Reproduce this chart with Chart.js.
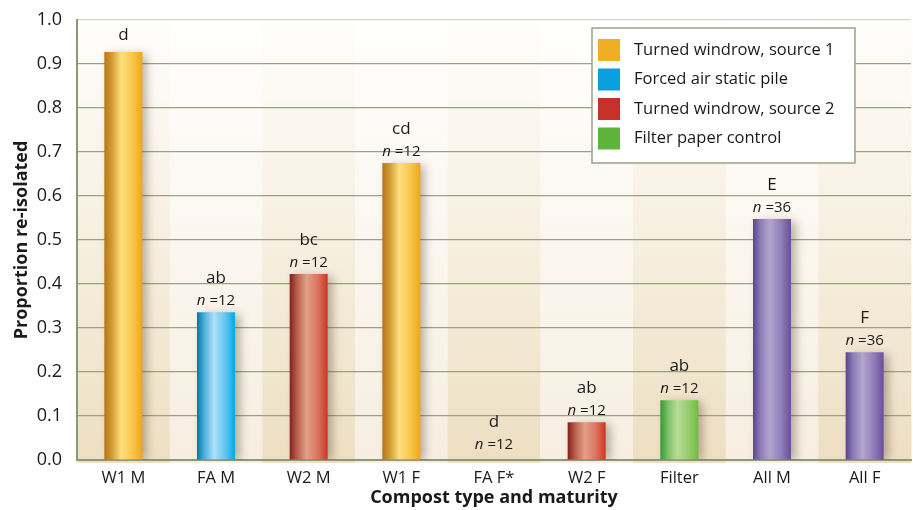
<!DOCTYPE html>
<html><head><meta charset="utf-8">
<script src="https://cdn.jsdelivr.net/npm/chart.js@4"></script>
<style>html,body{margin:0;padding:0;background:#fff;overflow:hidden}</style>
</head><body>
<canvas id="c" width="913" height="510" style="width:913px;height:510px;display:block"></canvas>
<script>
const categories = ['W1 M','FA M','W2 M','W1 F','FA F*','W2 F','Filter','All M','All F'];
const proportions = [0.927,0.336,0.423,0.675,0,0.086,0.136,0.548,0.245];
const groupLetters = ['d','ab','bc','cd','d','ab','ab','E','F'];
const sampleSizes = [null,12,12,12,12,12,12,36,36];
const sourceKeys = ['w1','fa','w2','w1','fa','w2','filter','all','all'];
const legendLabels = ['Turned windrow, source 1','Forced air static pile','Turned windrow, source 2','Filter paper control'];
const legendKeys = ['w1','fa','w2','filter'];
const yTickValues = [0,0.1,0.2,0.3,0.4,0.5,0.6,0.7,0.8,0.9,1.0];

const FONT = "'Open Sans', 'Noto Sans', sans-serif";
const palette = {
  w1:{solid:'#F0AE22', stops:['#B4771A','#D39C32','#FFE07E','#F8C54C','#EFA51C']},
  fa:{solid:'#0AA0E0', stops:['#0477A6','#4FB0DC','#AEE0F8','#62C4EE','#02A8E6']},
  w2:{solid:'#C8302A', stops:['#86201C','#B9604C','#E4A088','#D9735E','#CC3524']},
  filter:{solid:'#5DB43A', stops:['#2F9A36','#7CC066','#B8DC98','#94CC6C','#70BC42']},
  all:{solid:'#7B62A8', stops:['#5A438E','#8E7CB6','#B2A6CE','#8F7BB8','#6A4F9C']}
};
const BAR_PCT = 0.41;

function barGradient(c){
  const chart = c.chart; const area = chart.chartArea;
  const p = palette[sourceKeys[c.dataIndex]];
  if(!area) return p.solid;
  const x = chart.scales.x.getPixelForValue(c.dataIndex);
  const w = area.width / categories.length * BAR_PCT;
  const g = chart.ctx.createLinearGradient(x - w/2, 0, x + w/2, 0);
  const pos = [0,0.2,0.45,0.75,1];
  p.stops.forEach((col,i)=>g.addColorStop(pos[i],col));
  return g;
}

const decorPlugin = {
  id:'decor',
  beforeDraw(chart){
    const {ctx, chartArea:a} = chart;
    const n = categories.length, cw = a.width/n;
    ctx.save();
    for(let i=0;i<n;i++){
      const g = ctx.createLinearGradient(0,a.top,0,a.bottom);
      if(i%2===0){ g.addColorStop(0,'#FFFEFC'); g.addColorStop(1,'#EEDFC3'); }
      else { g.addColorStop(0,'#FFFFFE'); g.addColorStop(1,'#F7EEE1'); }
      ctx.fillStyle = g;
      ctx.fillRect(a.left + i*cw, a.top, cw+0.5, a.bottom - a.top + 3);
    }
    ctx.restore();
  },
  beforeDatasetsDraw(chart){
    const ctx = chart.ctx;
    ctx.save();
    ctx.shadowColor = 'rgba(60,40,20,0.35)';
    ctx.shadowBlur = 9;
    ctx.shadowOffsetX = 5;
    ctx.shadowOffsetY = 2;
  },
  afterDatasetsDraw(chart){
    const ctx = chart.ctx;
    ctx.restore();
    const meta = chart.getDatasetMeta(0);
    const zeroY = chart.scales.y.getPixelForValue(0);
    ctx.save();
    ctx.fillStyle = '#1a1a1a';
    ctx.textBaseline = 'middle';
    meta.data.forEach((el,i)=>{
      const x = el.x;
      const top = Math.min(el.y, zeroY - 4);
      ctx.textAlign = 'center';
      ctx.font = `17px ${FONT}`;
      const letterY = sampleSizes[i] == null ? top - 17 : top - 34;
      ctx.fillText(groupLetters[i], x, letterY);
      if(sampleSizes[i] != null){
        const a = 'n', b = ' =' + sampleSizes[i];
        ctx.font = `italic 15px ${FONT}`; const wa = ctx.measureText(a).width;
        ctx.font = `15px ${FONT}`; const wb = ctx.measureText(b).width;
        const sx = x - (wa+wb)/2;
        ctx.textAlign = 'left';
        ctx.font = `italic 15px ${FONT}`; ctx.fillText(a, sx, top - 11);
        ctx.font = `15px ${FONT}`; ctx.fillText(b, sx + wa, top - 11);
      }
    });
    ctx.restore();
  },
  afterDraw(chart){
    const ctx = chart.ctx;
    const bx = 592, by = 28, bw = 263, bh = 135;
    ctx.save();
    ctx.fillStyle = '#FFFFFF';
    ctx.fillRect(bx, by, bw, bh);
    ctx.strokeStyle = '#9AA287';
    ctx.lineWidth = 1.5;
    ctx.strokeRect(bx, by, bw, bh);
    ctx.font = `16.5px ${FONT}`;
    ctx.textBaseline = 'middle';
    ctx.textAlign = 'left';
    legendLabels.forEach((lab,i)=>{
      const cy = by + 22 + i*29.5;
      ctx.fillStyle = palette[legendKeys[i]].solid;
      ctx.fillRect(bx + 6, cy - 11, 22, 22);
      ctx.fillStyle = '#1a1a1a';
      ctx.fillText(lab, bx + 42, cy);
    });
    ctx.restore();
  }
};

new Chart(document.getElementById('c'), {
  type:'bar',
  data:{
    labels: categories,
    datasets:[{
      data: proportions,
      backgroundColor: barGradient,
      borderWidth: 0,
      barPercentage: BAR_PCT,
      categoryPercentage: 1.0
    }]
  },
  options:{
    responsive:false,
    animation:false,
    devicePixelRatio: 1,
    layout:{padding:{top:20,right:2,left:0,bottom:0}},
    plugins:{legend:{display:false}, tooltip:{enabled:false}},
    scales:{
      x:{
        grid:{display:false, drawTicks:false},
        border:{display:true, color:'#8D9876', width:2},
        ticks:{color:'#1a1a1a', font:{family:FONT, size:16.5}, padding:8},
        title:{display:true, text:'Compost type and maturity', color:'#1a1a1a', font:{family:FONT, size:18, weight:'bold'}, padding:{top:0,bottom:1}},
        afterFit(s){ s.height = 50; s.paddingLeft = 0; s.paddingRight = 0; }
      },
      y:{
        min:0, max:1,
        afterBuildTicks(s){ s.ticks = yTickValues.map(v=>({value:v})); },
        grid:{drawTicks:false, color:c=> c.tick && c.tick.value===1 ? '#CFD5C8' : '#98A283', lineWidth:1.2},
        border:{display:true, color:'#8D9876', width:2},
        ticks:{color:'#1a1a1a', font:{family:FONT, size:18}, padding:15, callback:v=>Number(v).toFixed(1)},
        title:{display:true, text:'Proportion re-isolated', color:'#1a1a1a', font:{family:FONT, size:18, weight:'bold'}, padding:{top:11,bottom:4}},
        afterFit(s){ s.width = 77; s.paddingTop = 0; s.paddingBottom = 0; }
      }
    }
  },
  plugins:[decorPlugin]
});
</script>
</body></html>
